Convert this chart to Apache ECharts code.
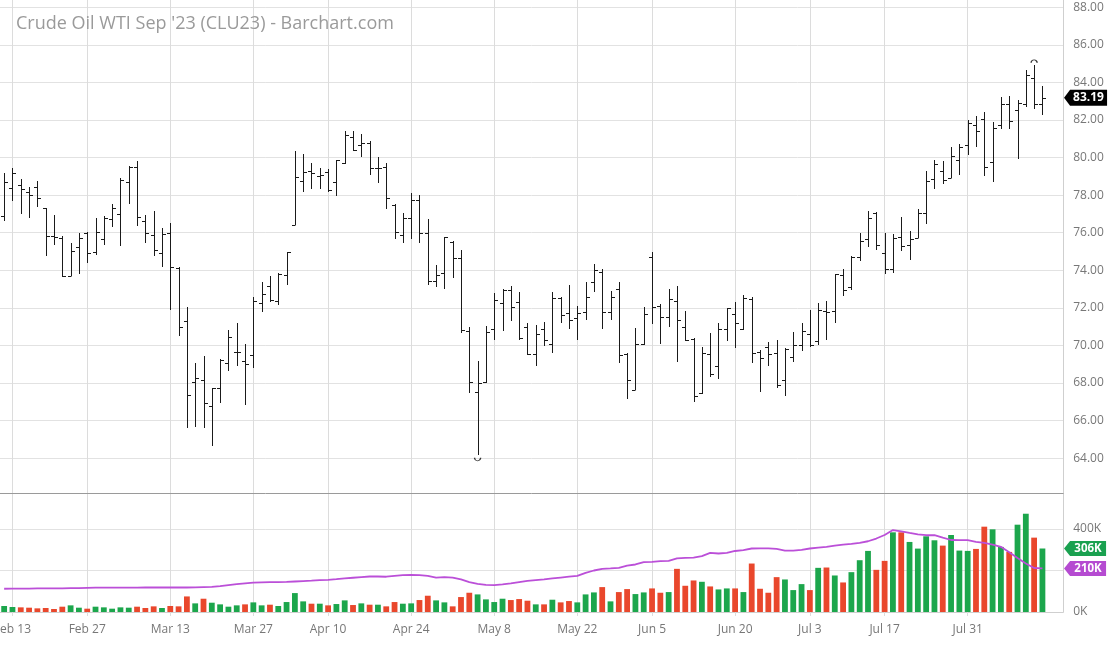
<!DOCTYPE html>
<html><head><meta charset="utf-8">
<script src="https://cdn.jsdelivr.net/npm/echarts@6/dist/echarts.min.js"></script>
<style>html,body{margin:0;padding:0;background:#fff}#c{width:1110px;height:645px}</style>
</head><body><div id="c"></div><script>
const titleText = "Crude Oil WTI Sep '23 (CLU23) - Barchart.com";
const dates = ['Feb 10','Feb 13','Feb 14','Feb 15','Feb 16','Feb 17','Feb 21','Feb 22','Feb 23','Feb 24','Feb 27','Feb 28',
'Mar 1','Mar 2','Mar 3','Mar 6','Mar 7','Mar 8','Mar 9','Mar 10','Mar 13','Mar 14','Mar 15','Mar 16','Mar 17','Mar 20','Mar 21','Mar 22','Mar 23','Mar 24','Mar 27','Mar 28','Mar 29','Mar 30','Mar 31',
'Apr 3','Apr 4','Apr 5','Apr 6','Apr 10','Apr 11','Apr 12','Apr 13','Apr 14','Apr 17','Apr 18','Apr 19','Apr 20','Apr 21','Apr 24','Apr 25','Apr 26','Apr 27','Apr 28',
'May 1','May 2','May 3','May 4','May 5','May 8','May 9','May 10','May 11','May 12','May 15','May 16','May 17','May 18','May 19','May 22','May 23','May 24','May 25','May 26','May 30','May 31',
'Jun 1','Jun 2','Jun 5','Jun 6','Jun 7','Jun 8','Jun 9','Jun 12','Jun 13','Jun 14','Jun 15','Jun 16','Jun 20','Jun 21','Jun 22','Jun 23','Jun 26','Jun 27','Jun 28','Jun 29','Jun 30',
'Jul 3','Jul 5','Jul 6','Jul 7','Jul 10','Jul 11','Jul 12','Jul 13','Jul 14','Jul 17','Jul 18','Jul 19','Jul 20','Jul 21','Jul 24','Jul 25','Jul 26','Jul 27','Jul 28','Jul 31',
'Aug 1','Aug 2','Aug 3','Aug 4','Aug 7','Aug 8','Aug 9','Aug 10','Aug 11'];
const tickLabels = ['Feb 13','Feb 27','Mar 13','Mar 27','Apr 10','Apr 24','May 8','May 22','Jun 5','Jun 20','Jul 3','Jul 17','Jul 31'];
const opens = [76.91,78.40,78.54,78.15,78.42,77.30,75.83,75.70,73.71,75.26, 76.00,74.96,75.67,76.71,77.00,78.69,79.48,76.61,75.86,74.94, 76.00,74.12,71.30,68.03,68.15,66.80,67.74,69.09,69.64,69.18, 69.48,72.27,73.18,72.36,73.74,76.40,78.77,79.30,79.03,79.21, 78.71,79.73,81.11,80.67,80.79,79.42,79.51,77.47,75.87,76.76, 77.74,76.00,73.44,73.83,75.52,74.63,70.77,67.52,68.06,70.85, 72.27,72.94,72.32,70.99,69.53,70.90,70.10,72.50,71.74,71.44, 71.79,73.39,73.92,71.79,73.03,69.57,67.65,70.05,74.69,72.09, 71.49,72.36,70.99,70.33,67.47,69.52,68.90,70.85,71.65,70.85, 72.45,69.66,69.93,69.62,68.18,69.39,70.01,70.60,70.25,71.85, 71.85,73.75,73.09,74.69,75.65,77.04,74.91,74.07,75.76,75.35, 75.71,77.04,78.87,79.31,78.94,79.88,80.68,81.74,82.06,79.79, 81.74,82.85,82.54,82.86,84.23,82.86];
const highs = [79.17,79.43,78.85,78.45,78.77,77.30,76.94,75.84,75.47,75.97, 76.06,76.77,76.89,77.53,78.90,79.56,79.84,76.94,77.18,76.23, 76.50,74.16,72.06,69.04,69.45,67.74,69.27,70.82,71.21,70.05, 72.56,73.36,73.71,73.87,74.98,80.37,80.17,79.69,79.42,79.37, 79.87,81.43,81.43,81.25,80.90,80.05,79.69,77.52,77.06,78.09, 78.00,76.71,74.27,75.79,75.55,75.07,70.99,69.18,71.02,72.80, 73.03,73.17,72.85,71.17,71.08,71.25,72.86,72.59,73.21,72.09, 73.39,74.33,74.05,72.89,73.39,69.61,70.94,72.02,74.99,72.20, 73.03,73.16,71.84,70.37,69.93,70.64,71.17,72.00,72.32,72.66, 72.59,69.75,70.19,70.28,69.84,70.72,71.17,71.88,72.24,72.38, 73.80,74.07,74.78,75.97,77.16,77.09,76.01,75.94,76.86,76.11, 77.25,79.26,79.88,79.84,80.59,80.71,82.01,82.19,82.42,81.87, 83.25,83.29,83.04,84.67,84.91,83.79];
const lows = [76.64,77.71,77.00,76.77,77.35,74.78,75.35,73.66,73.69,73.78, 74.37,74.81,75.35,76.32,75.31,77.53,76.38,75.44,74.76,74.16, 71.88,70.52,65.61,65.67,65.58,64.64,66.91,68.63,68.90,66.82, 68.81,71.79,72.29,72.15,73.21,76.40,78.18,78.31,78.31,78.18, 77.95,79.66,80.37,80.01,79.07,78.66,77.24,75.69,75.46,75.69, 75.46,73.21,73.12,72.98,73.60,70.67,67.47,64.15,68.00,70.31, 70.77,71.31,70.28,69.48,68.89,69.96,69.61,71.20,70.87,70.28, 71.35,72.82,70.85,71.38,69.07,67.17,67.62,70.01,71.13,70.10, 70.96,69.13,70.24,66.99,67.44,68.33,68.20,70.24,69.84,70.81, 69.09,67.53,68.89,67.74,67.30,69.13,69.71,69.89,70.02,70.29, 71.21,72.63,72.95,74.51,75.23,75.08,73.80,73.88,75.03,74.55, 75.71,76.47,78.32,78.60,78.90,79.08,80.15,80.59,79.04,78.69, 81.51,81.53,79.91,82.69,82.58,82.28];
const closes = [78.72,79.17,78.31,78.01,77.85,75.83,75.75,73.71,75.03,75.70, 74.94,76.06,76.77,77.30,78.81,79.48,76.82,76.00,75.08,75.93, 74.16,71.00,67.35,68.24,66.91,67.71,69.25,70.43,69.66,68.99, 72.34,72.72,72.42,73.80,74.98,78.98,79.21,79.16,79.07,78.27, 79.87,81.20,80.40,80.76,79.42,79.42,77.83,76.05,76.76,77.74, 75.96,73.44,73.74,75.75,74.63,70.81,68.06,68.00,70.72,72.41, 72.94,72.02,70.37,69.53,70.60,70.31,72.50,71.61,71.35,71.70, 72.59,74.01,71.79,72.59,69.48,68.15,70.05,71.67,72.06,71.49, 72.45,71.35,70.28,67.31,69.61,68.47,70.85,71.97,71.17,72.55, 69.62,69.34,69.53,67.92,69.80,70.01,70.78,70.01,71.89,71.80, 73.79,72.95,74.73,75.56,76.77,75.35,74.07,75.71,75.30,75.65, 77.07,78.76,79.67,78.81,80.09,80.58,81.83,81.39,79.49,81.57, 82.86,81.96,82.93,84.41,82.86,83.19];
// volume in thousands of contracts
const volumes = [28.8,24,22.4,20.8,17.6,19.2,14.4,25.6,32,20.8, 16,25.6,22.4,16,22.4,20.8,25.6,19.2,27.2,19.2, 28.8,27.2,75,41.6,64,44.8,36.8,25.6,32,36.8, 46.4,32,35.2,28.8,48,91.2,51.2,40,40,32, 38.4,56,33.6,41.6,35.2,35.2,27.2,48,40,41.6, 57.6,78.4,56,46.4,27.2,72,92.8,84.8,60.8,48, 64,57.6,62.4,54.4,36.8,36.8,59.2,46.4,52.8,46.4, 84.8,94.4,120,51.2,96,110.4,86.4,94.4,113.6,92.8, 96,208,126.4,152,145.6,123.2,108.8,113.6,113.6,96, 233.6,112,92.8,168,156.8,105.6,134.4,105.6,212.8,214.4, 176,142.4,192,249.6,294.4,203.2,246.4,384,384,337.6, 305.6,364.8,345.6,320,371.2,296,294.4,304,411.2,398.4, 313.6,289.6,420.8,473.6,358.4,306];
const volumeAvg = [112,113,113,113,114,114,114,114,115,115, 116,117,117,117,117,117,117,118,118,118, 118,118,118,119,120,121,125,130,134,138, 142,143,144,144,145,147,149,151,154,155, 158,162,165,168,171,171,170,174,178,179, 178,174,166,168,166,157,144,136,131,130, 133,138,144,150,154,157,162,166,170,174, 189,200,208,210,213,224,229,240,242,245, 246,258,261,262,269,285,282,285,294,298, 306,307,307,304,296,296,299,306,310,314, 320,325,328,333,341,354,371,395,389,381, 374,370,370,358,347,346,346,338,333,325, 314,288,260,234,212,210];

const UP = '#1ca64c', DOWN = '#e9472c', AVG = '#bb4fd8', BAR = '#1a1a1a';
const N = dates.length;
const cats = dates.concat([' ', '  ']);
const lastCat = cats.length - 1;
const tickSet = new Set(tickLabels);
const showTick = (i, v) => tickSet.has(v);
let loIdx = 0, hiIdx = 0;
for (let i = 1; i < N; i++) { if (lows[i] < lows[loIdx]) loIdx = i; if (highs[i] > highs[hiIdx]) hiIdx = i; }

function tag(xIdx, value, text, color, w, h, fs) {
  return {
    coord: [xIdx, value], symbol: 'path://M0,' + (h / 2) + 'L6,0L' + w + ',0L' + w + ',' + h + 'L6,' + h + 'Z',
    symbolSize: [w, h], symbolOffset: [5 + w / 2, 0],
    itemStyle: {color: color},
    label: {show: true, position: 'inside', formatter: text, color: '#fff', fontWeight: 'bold',
            fontSize: fs, fontFamily: 'Open Sans', offset: [3, 0]}
  };
}

const ohlc = dates.map((d, i) => [i, opens[i], highs[i], lows[i], closes[i]]);
const volData = volumes.map((v, i) => ({value: v, itemStyle: {color: closes[i] >= opens[i] ? UP : DOWN}}));

const splitX = {show: true, interval: showTick, alignWithLabel: true, lineStyle: {color: '#dcdcdc', width: 1}};
const chart = echarts.init(document.getElementById('c'), null, {renderer: 'canvas'});
chart.setOption({
  animation: false,
  backgroundColor: '#fff',
  textStyle: {fontFamily: 'Open Sans'},
  title: {text: titleText, left: 11, top: 10,
          textStyle: {fontFamily: 'Open Sans', fontSize: 18, fontWeight: 'normal', color: '#9a9a9a'}},
  grid: [
    {left: 0, top: 0, width: 1063.2, height: 495.7, outerBoundsMode: 'none', containLabel: false},
    {left: 0, top: 493, width: 1063.2, height: 119, outerBoundsMode: 'none', containLabel: false}
  ],
  xAxis: [
    {gridIndex: 0, type: 'category', data: cats, boundaryGap: true,
     axisLine: {show: false}, axisTick: {show: false}, axisLabel: {show: false}, splitLine: splitX},
    {gridIndex: 1, type: 'category', data: cats, boundaryGap: true, position: 'bottom', offset: 4,
     axisLine: {show: true, lineStyle: {color: '#cfcfcf'}},
     axisTick: {show: true, interval: showTick, alignWithLabel: true, length: 4, lineStyle: {color: '#dcdcdc'}},
     axisLabel: {show: true, interval: showTick, color: '#777', fontSize: 12, margin: 8, fontFamily: 'Open Sans'},
     splitLine: splitX},
    {gridIndex: 1, type: 'category', data: cats, boundaryGap: true, position: 'top',
     axisLine: {show: true, lineStyle: {color: '#9a9a9a', width: 1}}, axisTick: {show: false},
     axisLabel: {show: false}, splitLine: {show: false}}
  ],
  yAxis: [
    {gridIndex: 0, type: 'value', position: 'right', min: 62, max: 88.39, interval: 2, scale: true,
     axisLine: {show: true, lineStyle: {color: '#cfcfcf'}}, axisTick: {show: false},
     axisLabel: {color: '#777', fontSize: 12, margin: 10, fontFamily: 'Open Sans',
                 formatter: v => v.toFixed(2), showMinLabel: false, showMaxLabel: false},
     splitLine: {show: true, showMinLine: false, showMaxLine: false, lineStyle: {color: '#e2e2e2'}}},
    {gridIndex: 1, type: 'value', position: 'right', min: 0, max: 573.5, interval: 200,
     axisLine: {show: true, lineStyle: {color: '#cfcfcf'}}, axisTick: {show: false},
     axisLabel: {color: '#777', fontSize: 12, margin: 10, fontFamily: 'Open Sans',
                 formatter: v => Math.round(v) + 'K', showMaxLabel: false},
     splitLine: {show: true, showMaxLine: false, lineStyle: {color: '#e2e2e2'}}}
  ],
  series: [
    {type: 'custom', name: 'OHLC', xAxisIndex: 0, yAxisIndex: 0, data: ohlc,
     encode: {x: 0, y: [1, 2, 3, 4]}, clip: false,
     renderItem: function (params, api) {
       const x = api.value(0);
       const o = api.coord([x, api.value(1)]);
       const h = api.coord([x, api.value(2)]);
       const l = api.coord([x, api.value(3)]);
       const c = api.coord([x, api.value(4)]);
       const px = Math.round(o[0]) + 0.5;
       const r = y => Math.round(y) + 0.5;
       const st = {stroke: BAR, lineWidth: 1};
       return {type: 'group', children: [
         {type: 'line', shape: {x1: px, y1: Math.round(h[1]), x2: px, y2: Math.round(l[1])}, style: st},
         {type: 'line', shape: {x1: px - 3.5, y1: r(o[1]), x2: px, y2: r(o[1])}, style: st},
         {type: 'line', shape: {x1: px, y1: r(c[1]), x2: px + 3.5, y2: r(c[1])}, style: st}
       ]};
     }},
    {type: 'line', name: 'close', xAxisIndex: 0, yAxisIndex: 0, data: closes, showSymbol: false, silent: true,
     lineStyle: {opacity: 0}, z: 5,
     markPoint: {silent: true, data: [
       tag(lastCat, closes[N - 1], closes[N - 1].toFixed(2), '#000', 43, 16, 12),
       {coord: [loIdx, lows[loIdx]], symbol: 'path://M0,0A3,3 0 0 0 6,0', symbolSize: [6, 3], symbolOffset: [0, 4],
        itemStyle: {color: 'rgba(0,0,0,0)', borderColor: '#333', borderWidth: 1}, label: {show: false}},
       {coord: [hiIdx, highs[hiIdx]], symbol: 'path://M0,3A3,3 0 0 1 6,3', symbolSize: [6, 3], symbolOffset: [0, -4],
        itemStyle: {color: 'rgba(0,0,0,0)', borderColor: '#333', borderWidth: 1}, label: {show: false}}
     ]}},
    {type: 'bar', name: 'Volume', xAxisIndex: 1, yAxisIndex: 1, data: volData, barWidth: 5.8,
     markPoint: {silent: true, data: [tag(lastCat, volumes[N - 1], Math.round(volumes[N - 1]) + 'K', '#1aa150', 42, 15, 11.5)]}},
    {type: 'line', name: 'Volume Avg', xAxisIndex: 1, yAxisIndex: 1, data: volumeAvg, showSymbol: false,
     symbol: 'none', lineStyle: {color: AVG, width: 1.8}, z: 4,
     markPoint: {silent: true, data: [tag(lastCat, volumeAvg[N - 1], Math.round(volumeAvg[N - 1]) + 'K', '#b54bd1', 42, 15, 11.5)]}}
  ]
});
</script></body></html>
